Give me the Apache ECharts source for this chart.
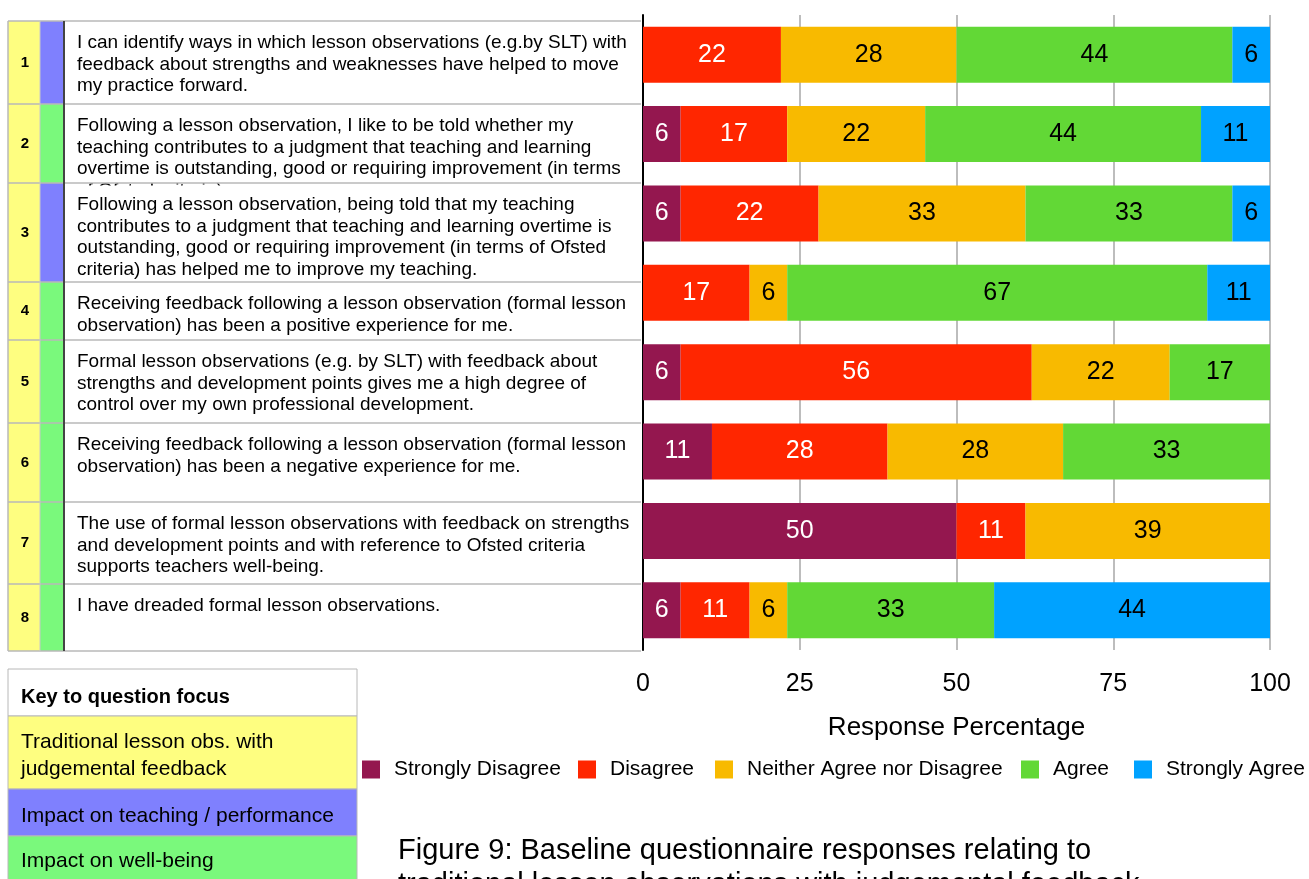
<!DOCTYPE html>
<html><head><meta charset="utf-8">
<script src="https://cdn.jsdelivr.net/npm/echarts@6/dist/echarts.min.js"></script>
<style>html,body{margin:0;padding:0;background:#fff;}#c{width:1309px;height:879px;}</style>
</head><body><div id="c"></div>
<script>
// ---- data ----
const questionNumbers = ['1','2','3','4','5','6','7','8'];
const questionLines = [
  ['I can identify ways in which lesson observations (e.g.by SLT) with','feedback about strengths and weaknesses have helped to move','my practice forward.'],
  ['Following a lesson observation, I like to be told whether my','teaching contributes to a judgment that teaching and learning','overtime is outstanding, good or requiring improvement (in terms','of Ofsted criteria).'],
  ['Following a lesson observation, being told that my teaching','contributes to a judgment that teaching and learning overtime is','outstanding, good or requiring improvement (in terms of Ofsted','criteria) has helped me to improve my teaching.'],
  ['Receiving feedback following a lesson observation (formal lesson','observation) has been a positive experience for me.'],
  ['Formal lesson observations (e.g. by SLT) with feedback about','strengths and development points gives me a high degree of','control over my own professional development.'],
  ['Receiving feedback following a lesson observation (formal lesson','observation) has been a negative experience for me.'],
  ['The use of formal lesson observations with feedback on strengths','and development points and with reference to Ofsted criteria','supports teachers well-being.'],
  ['I have dreaded formal lesson observations.']
];
const questionFocus = ['teaching','wellbeing','teaching','wellbeing','wellbeing','wellbeing','wellbeing','wellbeing'];
const seriesNames = ['Strongly Disagree','Disagree','Neither Agree nor Disagree','Agree','Strongly Agree'];
const stronglyDisagree = [null, 6, 6, null, 6, 11, 50, 6];
const disagree         = [22, 17, 22, 17, 56, 28, 11, 11];
const neither          = [28, 22, 33, 6, 22, 28, 39, 6];
const agree            = [44, 44, 33, 67, 17, 33, null, 33];
const stronglyAgree    = [6, 11, 6, 11, null, null, null, 44];
const xTicks = [0, 25, 50, 75, 100];
const keyTitle = 'Key to question focus';
const keyItems = [['Traditional lesson obs. with','judgemental feedback'],['Impact on teaching / performance'],['Impact on well-being']];
const captionLines = ['Figure 9: Baseline questionnaire responses relating to','traditional lesson observations with judgemental feedback'];

// ---- styling ----
const FONT = "'Liberation Sans', Arial, Helvetica, sans-serif";
const barColors = ['#94174f','#ff2600','#f8ba00','#62d836','#00a2ff'];
const labelColors = ['#ffffff','#ffffff','#000000','#000000','#000000'];
const cYellow = '#fefe80', cBlue = '#7f80fe', cGreen = '#7af97c';
const focusColor = {teaching: cBlue, wellbeing: cGreen};
const rowEdges = [21,104,183,282,340,423,502,584,651];
const gridCol = '#b8b8b8';

const g = [];
function rect(x,y,w,h,fill,z,stroke){g.push({type:'rect',shape:{x,y,width:w,height:h},style:{fill,stroke:stroke||null,lineWidth:stroke?1:0},z,silent:true});}
function txt(x,y,s,font,z,align,fill){g.push({type:'text',x,y,style:{text:s,font,fill:fill||'#000',textAlign:align||'left',textVerticalAlign:'middle'},z,silent:true});}
function ln(x1,y1,x2,y2,stroke,w,z){g.push({type:'line',shape:{x1,y1,x2,y2},style:{stroke,lineWidth:w},z,silent:true});}

for(let i=0;i<questionNumbers.length;i++){
  const y0=rowEdges[i], y1=rowEdges[i+1];
  const z=10+2*i;
  rect(8,y0,32,y1-y0,cYellow,z);
  rect(40,y0,24,y1-y0,focusColor[questionFocus[i]],z);
  rect(64,y0+(i>0?2.5:0),577,y1-y0-(i>0?2.5:0),'#ffffff',z);
  txt(25,(y0+y1)/2,questionNumbers[i],'bold 15px '+FONT,z+1,'center');
  questionLines[i].forEach((l,k)=>txt(77,y0+22+k*21.5,l,'19px '+FONT,z+1,'left'));
}
rowEdges.forEach(y=>ln(8,y,641,y,gridCol,1.5,60));
ln(8,21,8,651,gridCol,1.5,60);
ln(40,21,40,651,'#c8c8c8',1,60);
ln(64,21,64,651,'#444444',2,60);

// key box
const kTop=669;
rect(8,kTop,349,47,'#ffffff',40,gridCol);
txt(21,697,keyTitle,'bold 20px '+FONT,41);
rect(8,716,349,73,cYellow,40,gridCol);
keyItems[0].forEach((l,k)=>txt(21,742+k*27,l,'21px '+FONT,41));
rect(8,789,349,47,cBlue,40,gridCol);
txt(21,816,keyItems[1][0],'21px '+FONT,41);
rect(8,836,349,60,cGreen,40,gridCol);
txt(21,861,keyItems[2][0],'21px '+FONT,41);

// caption
captionLines.forEach((l,k)=>txt(398,851+k*34,l,'29px '+FONT,41));

const seriesData = [stronglyDisagree, disagree, neither, agree, stronglyAgree];
const legendLeft = [362, 578, 715, 1021, 1134];

const chart = echarts.init(document.getElementById('c'), null, {renderer:'canvas'});
chart.setOption({
  backgroundColor:'#ffffff',
  animation:false,
  grid:{left:643, right:39, top:15, bottom:229, containLabel:false},
  xAxis:{type:'value', min:xTicks[0], max:xTicks[xTicks.length-1], interval:25,
    axisLine:{show:false}, axisTick:{show:false},
    axisLabel:{fontSize:25, color:'#000', margin:22, fontFamily:FONT},
    splitLine:{show:true, lineStyle:{color:'#bdbdbd', width:2}},
    name:'Response Percentage', nameLocation:'middle', nameGap:65,
    nameTextStyle:{fontSize:26, color:'#000', fontFamily:FONT}},
  yAxis:{type:'category', inverse:true, data:questionNumbers,
    axisLine:{show:true, lineStyle:{color:'#000', width:2}},
    axisTick:{show:false}, axisLabel:{show:false}, splitLine:{show:false}},
  legend: seriesNames.map((n,i)=>({data:[n], left:legendLeft[i], top:759, orient:'horizontal',
    itemWidth:18, itemHeight:18, icon:'rect', padding:0, selectedMode:false,
    textStyle:{fontSize:21, color:'#000', fontFamily:FONT, padding:[0,0,0,9]}})),
  series: seriesNames.map((n,i)=>({
    name:n, type:'bar', stack:'total', data:seriesData[i], barWidth:56,
    itemStyle:{color:barColors[i]},
    label:{show:true, position:'inside', fontSize:25, fontFamily:FONT, color:labelColors[i],
      formatter:p=>p.value==null?'':String(p.value)}
  })),
  graphic: g
});
</script></body></html>
